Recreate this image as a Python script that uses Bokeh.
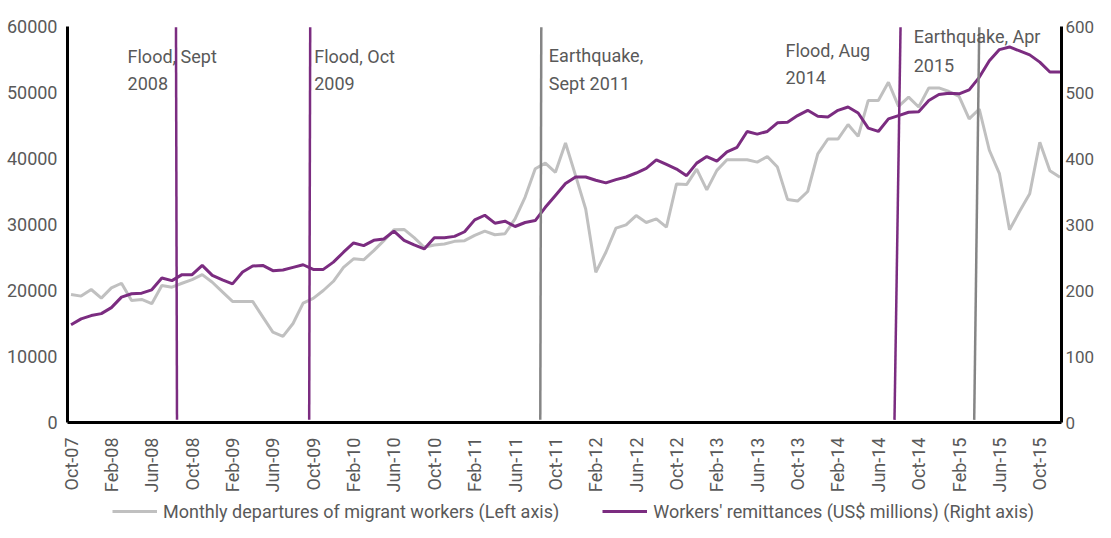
import math
import pandas as pd
from bokeh.plotting import figure
from bokeh.layouts import column
from bokeh.models import (Range1d, LinearAxis, FixedTicker, Legend, LegendItem,
                          Label, NumeralTickFormatter)
from bokeh.embed import file_html
from bokeh.resources import INLINE

# ---------------- data ----------------
months = pd.date_range("2007-10-01", periods=99, freq="MS")
month_labels = [d.strftime("%b-%y") for d in months]

# Monthly departures of migrant workers (left axis)
departures = [19400, 19150, 20150, 18850, 20400, 21100, 18500, 18650, 18000, 20750,
              20500, 21100, 21650, 22400, 21250, 19800, 18350, 18350, 18350, 16000,
              13700, 13050, 15000, 18100, 18800, 20000, 21400, 23500, 24800, 24650,
              26050, 27550, 29200, 29250, 28000, 26550, 26900, 27050, 27450, 27550,
              28350, 29000, 28450, 28600, 30850, 34150, 38450, 39300, 37900, 42350,
              37400, 32350, 22750, 25800, 29450, 29950, 31350, 30300, 30850, 29600,
              36150, 36050, 38400, 35250, 38200, 39800, 39800, 39800, 39450, 40300,
              38700, 33800, 33550, 35000, 40700, 42950, 42950, 45150, 43350, 48800,
              48800, 51550, 47900, 49300, 47800, 50700, 50700, 50150, 49400, 46000,
              47500, 41250, 37700, 29200, 32000, 34650, 42450, 38150, 37150]

# Workers' remittances, US$ millions (right axis)
remittances = [148, 157, 162, 165, 174, 190, 195, 196, 201, 219,
               215, 224, 224, 238, 223, 216, 210, 228, 237, 238,
               230, 231, 235, 239, 232, 232, 243, 258, 272, 268,
               276, 278, 290, 276, 269, 263, 280, 280, 282, 289,
               307, 314, 302, 305, 297, 303, 306, 326, 344, 362,
               372, 372, 367, 363, 368, 372, 378, 385, 398, 391,
               384, 374, 393, 403, 396, 410, 417, 441, 437, 441,
               454, 455, 465, 473, 464, 463, 473, 478, 469, 446,
               441, 460, 465, 470, 471, 488, 497, 499, 498, 504,
               523, 548, 565, 569, 563, 557, 546, 531, 531]

# Events (month index positions, as drawn)
event_kind = ["flood", "flood", "quake", "flood", "quake"]
event_x_top = [10.4, 23.7, 46.6, 82.2, 90.0]
event_x_bottom = [10.5, 23.6, 46.5, 81.6, 89.5]
event_label_1 = ["Flood, Sept", "Flood, Oct", "Earthquake,", "Flood, Aug", "Earthquake, Apr"]
event_label_2 = ["2008", "2009", "Sept 2011", "2014", "2015"]
label_x = [5.6, 24.1, 47.35, 70.8, 83.5]
label_y1 = [55450, 55450, 55600, 56360, 58480]
label_y2 = [51360, 51360, 51360, 52270, 54090]

left_ticks = [0, 10000, 20000, 30000, 40000, 50000, 60000]
right_ticks = [0, 100, 200, 300, 400, 500, 600]

series_names = ["Monthly departures of migrant workers (Left axis)",
                "Workers' remittances (US$ millions) (Right axis)"]

# ---------------- styling ----------------
FONT = "Roboto"
TXT = "#595959"
PURPLE = "#7B2C80"
LGRAY = "#C0C0C0"
DGRAY = "#858585"
FS = "18px"

W = 1095
LEFT, RIGHT, TOP, BOTTOM = 67, 34, 26, 78
idx = list(range(len(months)))

p = figure(width=W, frame_width=W - LEFT - RIGHT, frame_height=396,
           x_range=Range1d(-0.35, 98.15), y_range=Range1d(0, 60000),
           output_backend="svg", toolbar_location=None,
           min_border_left=LEFT, min_border_right=RIGHT, min_border_top=TOP,
           min_border_bottom=BOTTOM)
p.extra_y_ranges = {"rem": Range1d(0, 600)}
p.xgrid.visible = False
p.ygrid.visible = False
p.outline_line_color = None

right_axis = LinearAxis(y_range_name="rem")
p.add_layout(right_axis, "right")

def style_axis(ax, fs=FS):
    ax.axis_line_color = "black"
    ax.axis_line_width = 3
    ax.major_tick_line_color = None
    ax.minor_tick_line_color = None
    ax.major_tick_out = 0
    ax.major_tick_in = 0
    ax.minor_tick_out = 0
    ax.minor_tick_in = 0
    ax.major_label_text_color = TXT
    ax.major_label_text_font = FONT
    ax.major_label_text_font_size = fs

style_axis(p.xaxis[0])
style_axis(p.yaxis[0])
style_axis(right_axis, "17px")

p.yaxis[0].ticker = FixedTicker(ticks=left_ticks)
p.yaxis[0].formatter = NumeralTickFormatter(format="0")
p.yaxis[0].major_label_standoff = 10
right_axis.ticker = FixedTicker(ticks=right_ticks)
right_axis.formatter = NumeralTickFormatter(format="0")
right_axis.major_label_standoff = 4

xticks = idx[::4]
p.xaxis[0].ticker = FixedTicker(ticks=xticks)
p.xaxis[0].major_label_overrides = {i: month_labels[i] for i in xticks}
p.xaxis[0].major_label_orientation = math.pi / 2
p.xaxis[0].major_label_standoff = 15

p.line(idx, departures, line_color=LGRAY, line_width=3)
p.line(idx, remittances, y_range_name="rem", line_color=PURPLE, line_width=3)

# event lines
for k, xt, xb in zip(event_kind, event_x_top, event_x_bottom):
    col = PURPLE if k == "flood" else DGRAY
    p.segment(x0=[xb], y0=[400], x1=[xt], y1=[59900], line_color=col, line_width=2.5)

# event labels
for x, y1, y2, t1, t2 in zip(label_x, label_y1, label_y2, event_label_1, event_label_2):
    for yy, tt in [(y1, t1), (y2, t2)]:
        p.add_layout(Label(x=x, y=yy, text=tt, text_font=FONT, text_font_size=FS,
                           text_color=TXT, text_baseline="alphabetic", text_align="left"))

# ---------------- legend strip ----------------
LH = 522 - (TOP + 396 + BOTTOM)
pl = figure(width=W, height=LH, frame_width=W, frame_height=LH, min_border=0,
            x_range=Range1d(0, 1), y_range=Range1d(0, 1),
            x_axis_location=None, y_axis_location=None,
            output_backend="svg", toolbar_location=None)
pl.grid.visible = False
pl.outline_line_color = None
g1 = pl.line(x=[-5, -4], y=[-5, -4], line_color=LGRAY, line_width=3)
g2 = pl.line(x=[-5, -4], y=[-5, -4], line_color=PURPLE, line_width=3)
legend = Legend(items=[LegendItem(label=series_names[0], renderers=[g1]),
                       LegendItem(label=series_names[1], renderers=[g2])],
                orientation="horizontal", location=(112, 0))
legend.border_line_color = None
legend.background_fill_alpha = 0
legend.padding = 0
legend.margin = 0
legend.spacing = 43
legend.glyph_width = 45
legend.glyph_height = LH
legend.label_height = LH
legend.label_standoff = 6
legend.label_text_font = FONT
legend.label_text_font_size = FS
legend.label_text_color = TXT
pl.add_layout(legend, "center")

layout = column(p, pl, spacing=0)
open("out.html", "w").write(file_html(layout, INLINE))
